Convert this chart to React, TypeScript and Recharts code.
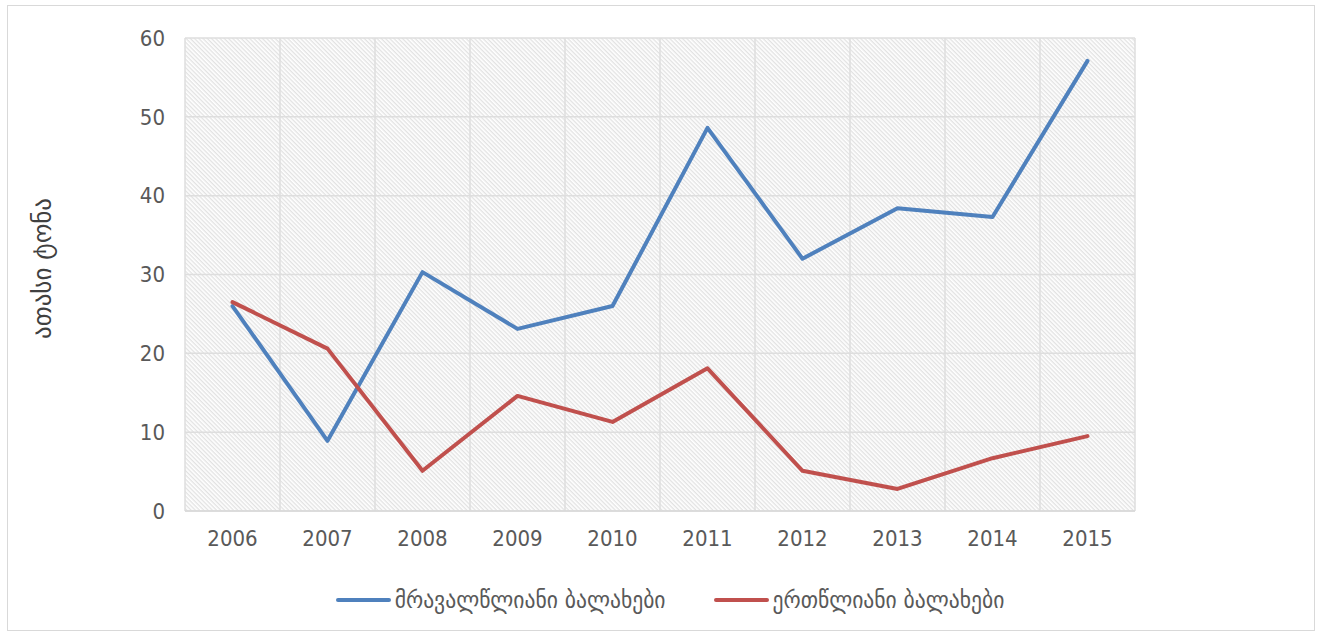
import React from "react";
import { LineChart, Line, XAxis, YAxis, CartesianGrid } from "recharts";

const years = ["2006", "2007", "2008", "2009", "2010", "2011", "2012", "2013", "2014", "2015"];
const perennialGrass = [26.0, 8.9, 30.3, 23.1, 26.0, 48.6, 32.0, 38.4, 37.3, 57.1];
const annualGrass = [26.5, 20.6, 5.1, 14.6, 11.3, 18.1, 5.1, 2.8, 6.7, 9.5];
const yTicks = [0, 10, 20, 30, 40, 50, 60];

const seriesNames = ["მრავალწლიანი ბალახები", "ერთწლიანი ბალახები"];
const seriesColors = ["#4f81bd", "#c0504d"];
const yLabel = "ათასი ტონა";

const data = years.map((year, i) => ({
  x: i,
  year,
  perennial: perennialGrass[i],
  annual: annualGrass[i],
}));

const xTicks = years.map((_, i) => i);
// vertical grid lines sit between the categories
const gridXs = [...years.map((_, i) => i - 0.5), years.length - 0.5];

const FONT = "'Liberation Sans Narrow', 'DejaVu Sans Condensed', sans-serif";
const TEXT = "#595959";

export default function App() {
  return (
    <div style={{ position: "absolute", left: 0, top: 0, width: 1318, height: 635, background: "#fff", fontFamily: FONT }}>
      <div
        style={{
          position: "absolute",
          left: 7,
          top: 5,
          width: 1308,
          height: 626,
          border: "1.5px solid #d9d9d9",
          boxSizing: "border-box",
        }}
      />
      <LineChart
        width={1318}
        height={635}
        data={data}
        margin={{ top: 38, right: 183, left: 0, bottom: 74 }}
        style={{ position: "absolute", left: 0, top: 0 }}
      >
        <defs>
          <pattern id="hatch" patternUnits="userSpaceOnUse" width="3" height="3" patternTransform="rotate(45)">
            <rect width="3" height="3" fill="#ffffff" />
            <line x1="0" y1="0.75" x2="3" y2="0.75" stroke="#d2d2d2" strokeWidth="0.9" />
          </pattern>
        </defs>
        <CartesianGrid
          stroke="#dedede"
          strokeWidth={1.5}
          fill="url(#hatch)"
          fillOpacity={1}
          verticalValues={gridXs}
        />
        <XAxis
          dataKey="x"
          type="number"
          domain={[-0.5, years.length - 0.5]}
          ticks={xTicks}
          tickFormatter={(v) => years[v]}
          axisLine={{ stroke: "#d9d9d9", strokeWidth: 1.5 }}
          tickLine={false}
          tickSize={0}
          tickMargin={19}
          height={50}
          tick={{ fill: TEXT, fontSize: 22, fontFamily: FONT }}
        />
        <YAxis
          domain={[0, 60]}
          ticks={yTicks}
          axisLine={false}
          tickLine={false}
          tickSize={0}
          tickMargin={20}
          width={185}
          tick={{ fill: TEXT, fontSize: 22, fontFamily: FONT }}
          label={{
            value: yLabel,
            angle: -90,
            position: "center",
            dx: -50,
            dy: -6,
            style: { fill: "#404040", fontSize: 25, fontFamily: "'DejaVu Sans', sans-serif" },
          }}
        />
        <Line
          type="linear"
          dataKey="perennial"
          stroke={seriesColors[0]}
          strokeWidth={4}
          dot={false}
          strokeLinejoin="round"
          strokeLinecap="round"
          isAnimationActive={false}
        />
        <Line
          type="linear"
          dataKey="annual"
          stroke={seriesColors[1]}
          strokeWidth={4}
          dot={false}
          strokeLinejoin="round"
          strokeLinecap="round"
          isAnimationActive={false}
        />
      </LineChart>
      <div
        style={{
          position: "absolute",
          left: 0,
          top: 585,
          width: 1318,
          display: "flex",
          justifyContent: "center",
          gap: 48,
          paddingLeft: 22,
          boxSizing: "border-box",
        }}
      >
        {seriesNames.map((name, i) => (
          <div key={name} style={{ display: "flex", alignItems: "center" }}>
            <div style={{ width: 55, height: 4, borderRadius: 2, background: seriesColors[i], marginRight: 4 }} />
            <span style={{ color: TEXT, fontSize: 24, lineHeight: "30px", fontFamily: FONT }}>{name}</span>
          </div>
        ))}
      </div>
    </div>
  );
}
